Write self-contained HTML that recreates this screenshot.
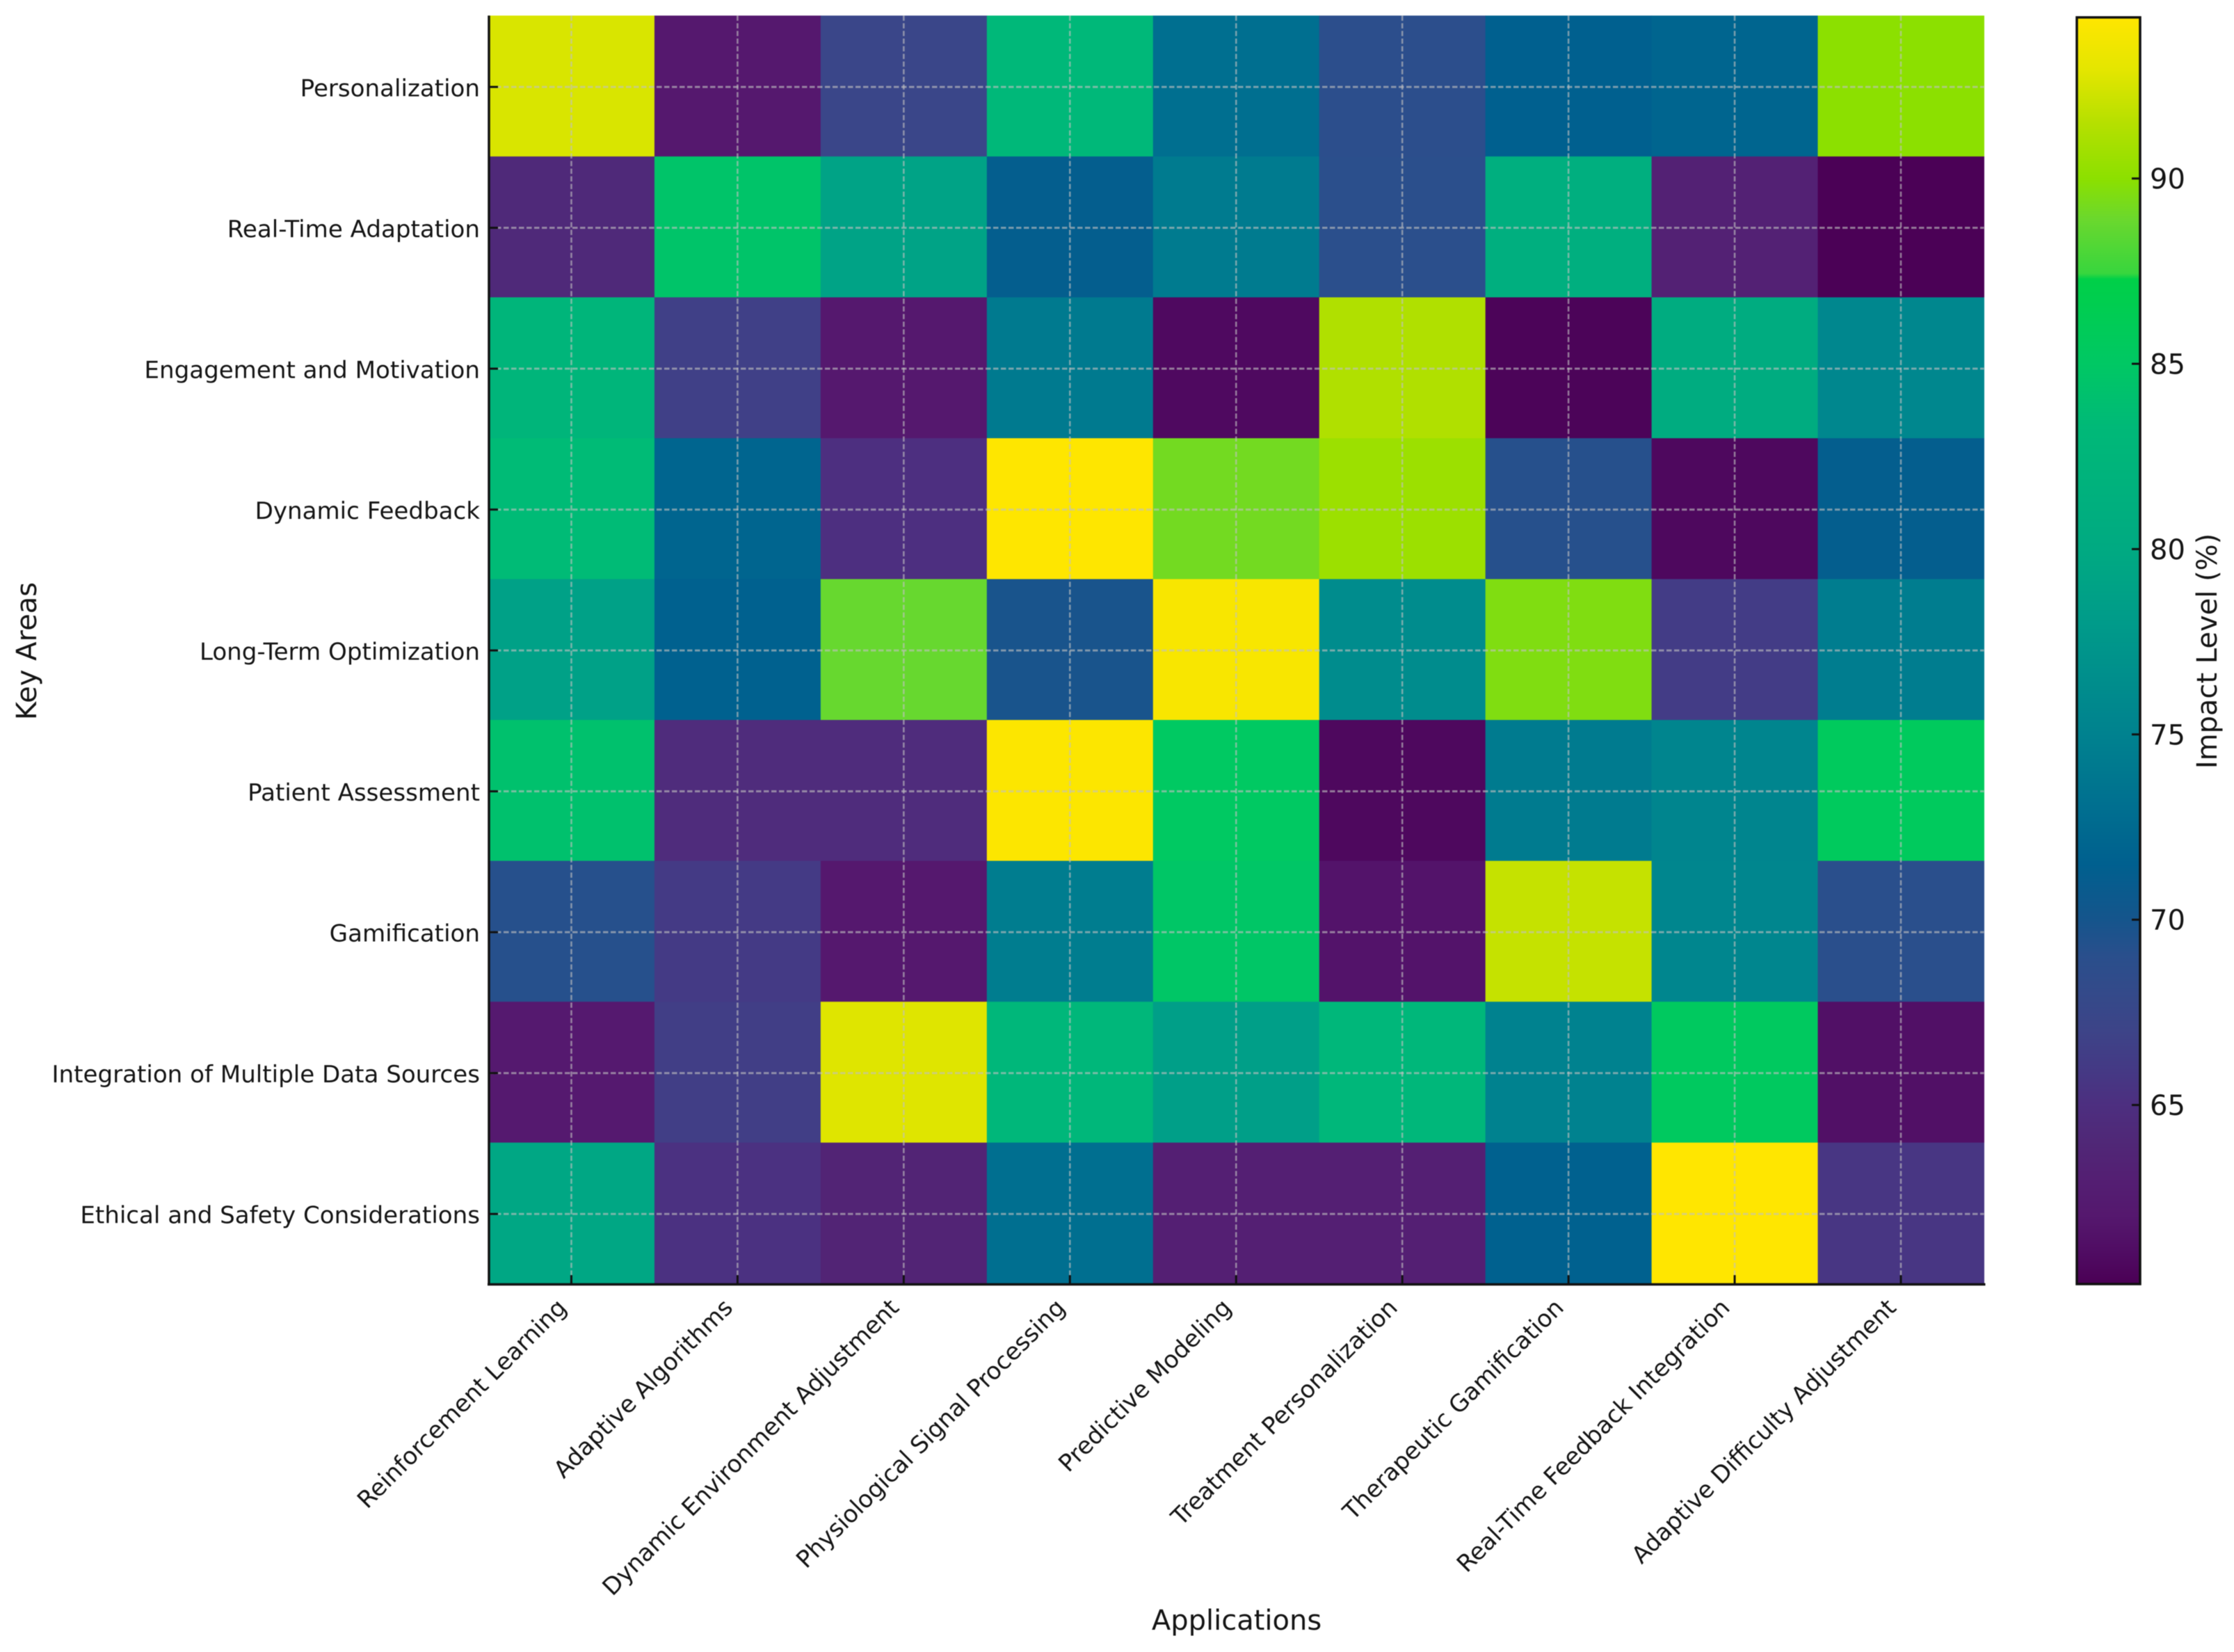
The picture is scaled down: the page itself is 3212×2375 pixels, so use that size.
<!DOCTYPE html>
<html lang="en">
<head>
<meta charset="utf-8">
<title>Impact Level Heatmap</title>
<style>
html,body{margin:0;padding:0;background:#fff;width:3212px;height:2375px;overflow:hidden}
svg{display:block;filter:blur(0.6px)}
text{font-family:"DejaVu Sans","Liberation Sans",sans-serif;fill:#141414}
</style>
</head>
<body>
<svg id="chart" xmlns="http://www.w3.org/2000/svg" width="3212" height="2375" viewBox="0 0 3212 2375">
  <rect x="0" y="0" width="3212" height="2375" fill="#fff"/>
  <defs>
    <linearGradient id="colorbar-gradient" x1="0" y1="1" x2="0" y2="0"></linearGradient>
  </defs>
  <g id="cells"></g>
  <g id="grid"></g>
  <g id="axes"></g>
  <g id="colorbar"></g>
  <text x="1778" y="2343" font-size="40" text-anchor="middle">Applications</text>
  <text transform="translate(52,936) rotate(-90)" font-size="40" text-anchor="middle">Key Areas</text>
  <text transform="translate(3187,936) rotate(-90)" font-size="40" text-anchor="middle">Impact Level (%)</text>
</svg>
<script>
const applications = ["Reinforcement Learning","Adaptive Algorithms","Dynamic Environment Adjustment","Physiological Signal Processing","Predictive Modeling","Treatment Personalization","Therapeutic Gamification","Real-Time Feedback Integration","Adaptive Difficulty Adjustment"];
const keyAreas = ["Personalization","Real-Time Adaptation","Engagement and Motivation","Dynamic Feedback","Long-Term Optimization","Patient Assessment","Gamification","Integration of Multiple Data Sources","Ethical and Safety Considerations"];
const personalization = [92.6,62.0,67.3,83.0,73.0,68.8,71.5,72.0,90.0];
const realTimeAdaptation = [64.2,84.6,79.0,71.2,74.3,68.9,81.0,63.2,60.2];
const engagementMotivation = [82.5,66.6,62.0,74.2,60.8,91.3,60.4,80.5,75.6];
const dynamicFeedback = [83.5,72.0,65.0,94.3,89.2,90.6,69.2,60.7,71.2];
const longTermOptimization = [78.8,71.6,88.8,69.8,94.0,76.2,89.6,66.2,74.5];
const patientAssessment = [84.2,64.5,64.5,94.2,85.2,60.7,74.3,75.4,85.6];
const gamification = [69.2,66.0,62.0,74.5,84.8,61.6,92.0,75.5,69.0];
const multipleDataSources = [62.2,66.4,92.8,82.8,78.6,82.8,75.0,85.4,61.3];
const ethicalSafety = [79.6,65.2,63.6,73.0,63.0,63.0,71.6,94.4,65.6];
const impactRows = [personalization,realTimeAdaptation,engagementMotivation,dynamicFeedback,longTermOptimization,patientAssessment,gamification,multipleDataSources,ethicalSafety];
const colorbarTicks = [65,70,75,80,85,90];
const valueMin = 60.15;
const valueMax = 94.37;
const colormapLevels = [60.15,61,62,63,64,65,66,67,68,69,70,71.5,73,75,76,78,80,83.3,85,87.3,87.45,88.9,90,91.5,92.95,94.37];
const colormapColors = ["#4b0055","#500c63","#55186e","#541f73","#502877","#4d2f80","#443a85","#3d4488","#344a8a","#2a4f8c","#15558c","#00608f","#006f90","#00828f","#008a8d","#009b8a","#00aa82","#00b978","#00c864","#00d048","#38d63e","#6ad82e","#8ce000","#b5e000","#e4e600","#ffe600"];

const PLOT = {left:702,right:2852.5,top:22.4,bottom:1845.2};
const BAR = {left:2986,right:3077,top:25,bottom:1846};
const GRID_Y_OFFSET = 1.3;
const NS = "http://www.w3.org/2000/svg";
function make(tag, attrs, parent){
  const n = document.createElementNS(NS, tag);
  for (const k in attrs) n.setAttribute(k, attrs[k]);
  parent.appendChild(n);
  return n;
}
function bandX(i){ return PLOT.left + i * (PLOT.right - PLOT.left) / applications.length; }
function bandY(i){ return PLOT.top + i * (PLOT.bottom - PLOT.top) / keyAreas.length; }
function barY(v){ return 256.6 + (90 - v) * 53.28; }
function hexToRgb(h){ return [1,3,5].map(function(p){ return parseInt(h.substr(p,2),16); }); }
function colorFor(v){
  const c = Math.max(colormapLevels[0], Math.min(colormapLevels[colormapLevels.length-1], v));
  for (let i = 1; i < colormapLevels.length; i++) {
    if (c <= colormapLevels[i]) {
      const t = (c - colormapLevels[i-1]) / (colormapLevels[i] - colormapLevels[i-1]);
      const a = hexToRgb(colormapColors[i-1]), b = hexToRgb(colormapColors[i]);
      return "rgb(" + a.map(function(x,k){ return Math.round(x + (b[k]-x)*t); }).join(",") + ")";
    }
  }
  return colormapColors[colormapColors.length-1];
}

const cellsG = document.getElementById("cells");
const gridG = document.getElementById("grid");
const axesG = document.getElementById("axes");
const barG = document.getElementById("colorbar");

impactRows.forEach(function(row, r){
  row.forEach(function(v, c){
    const cell = make("rect", {x:bandX(c), y:bandY(r), width:bandX(c+1)-bandX(c)+0.5, height:bandY(r+1)-bandY(r)+0.5, fill:colorFor(v)}, cellsG);
    
    
  });
});

applications.forEach(function(label, i){
  const x = (bandX(i) + bandX(i+1)) / 2;
  const line = make("line", {x1:x, x2:x, y1:PLOT.top, y2:PLOT.bottom, stroke:"#c0c0c0", "stroke-opacity":"0.62", "stroke-width":"2.6", "stroke-dasharray":"7.5 3.5"}, gridG);
  
  
  const tick = make("line", {x1:x, x2:x, y1:PLOT.bottom-12, y2:PLOT.bottom, stroke:"#111", "stroke-width":"3"}, axesG);
  
  
  const txt = make("text", {transform:"translate(" + (x-5) + ",1882) rotate(-45)", "font-size":"34.1", "text-anchor":"end"}, axesG);
  txt.textContent = label;
  
  
});

keyAreas.forEach(function(label, i){
  const y = (bandY(i) + bandY(i+1)) / 2 + GRID_Y_OFFSET;
  const line = make("line", {x1:PLOT.left, x2:PLOT.right, y1:y, y2:y, stroke:"#c0c0c0", "stroke-opacity":"0.62", "stroke-width":"3", "stroke-dasharray":"7.5 3.5"}, gridG);
  
  
  const tick = make("line", {x1:703, x2:716, y1:y, y2:y, stroke:"#111", "stroke-width":"3"}, axesG);
  
  
  const txt = make("text", {x:690, y:y+13.5, "font-size":"34.1", "text-anchor":"end"}, axesG);
  txt.textContent = label;
  
  
});

const leftSpine = make("line", {x1:703, x2:703, y1:PLOT.top, y2:1848, stroke:"#111", "stroke-width":"3.5"}, axesG);


const bottomSpine = make("line", {x1:701, x2:PLOT.right+2, y1:1846.5, y2:1846.5, stroke:"#111", "stroke-width":"3.5"}, axesG);



const gradient = document.getElementById("colorbar-gradient");
colormapLevels.forEach(function(v, i){
  make("stop", {offset:(v - valueMin) / (valueMax - valueMin), "stop-color":colormapColors[i]}, gradient);
});
const barFill = make("rect", {x:BAR.left, y:BAR.top, width:BAR.right-BAR.left, height:BAR.bottom-BAR.top, fill:"url(#colorbar-gradient)"}, barG);


colorbarTicks.forEach(function(v){
  const y = barY(v);
  const tick = make("line", {x1:BAR.right-12, x2:BAR.right, y1:y, y2:y, stroke:"#111", "stroke-width":"3"}, barG);
  
  
  const txt = make("text", {x:3091, y:y+14.5, "font-size":"40"}, barG);
  txt.textContent = String(v);
  
  
});
const barOutline = make("rect", {x:BAR.left, y:BAR.top, width:BAR.right-BAR.left, height:BAR.bottom-BAR.top, fill:"none", stroke:"#111", "stroke-width":"3.5"}, barG);


</script>
</body>
</html>
